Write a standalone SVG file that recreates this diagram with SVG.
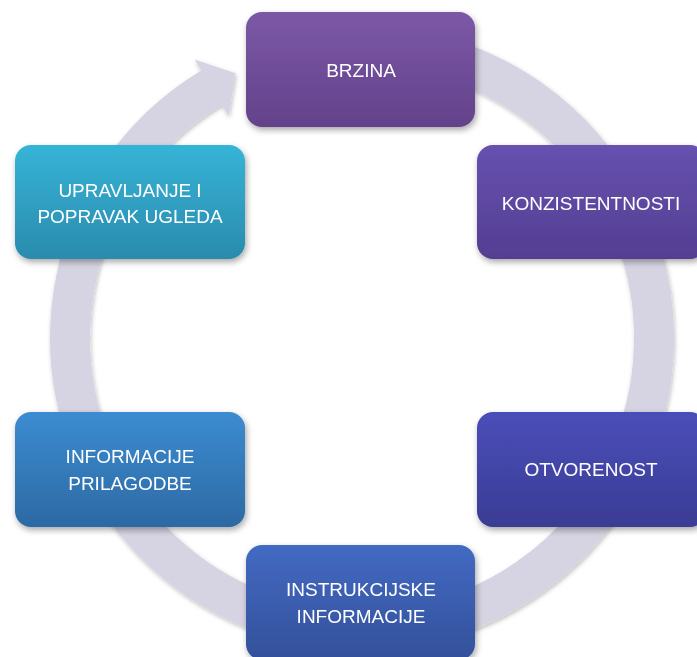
<svg xmlns="http://www.w3.org/2000/svg" width="697" height="657" viewBox="0 0 697 657">
<defs>
<filter id="sh" x="-20%" y="-20%" width="140%" height="150%">
<feDropShadow dx="1.5" dy="3" stdDeviation="3" flood-color="#000" flood-opacity="0.35"/>
</filter>
<filter id="rsh" x="-10%" y="-10%" width="120%" height="120%">
<feDropShadow dx="1" dy="2" stdDeviation="2" flood-color="#000" flood-opacity="0.25"/>
</filter>
<linearGradient id="g1" x1="0" y1="0" x2="0" y2="1"><stop offset="0" stop-color="#7C58A7"/><stop offset="1" stop-color="#63428A"/></linearGradient>
<linearGradient id="g2" x1="0" y1="0" x2="0" y2="1"><stop offset="0" stop-color="#6751B0"/><stop offset="1" stop-color="#533E92"/></linearGradient>
<linearGradient id="g3" x1="0" y1="0" x2="0" y2="1"><stop offset="0" stop-color="#4A4EB9"/><stop offset="1" stop-color="#3A3C94"/></linearGradient>
<linearGradient id="g4" x1="0" y1="0" x2="0" y2="1"><stop offset="0" stop-color="#436AC3"/><stop offset="1" stop-color="#33509A"/></linearGradient>
<linearGradient id="g5" x1="0" y1="0" x2="0" y2="1"><stop offset="0" stop-color="#3C8CD1"/><stop offset="1" stop-color="#2C69A3"/></linearGradient>
<linearGradient id="g6" x1="0" y1="0" x2="0" y2="1"><stop offset="0" stop-color="#36B4D7"/><stop offset="1" stop-color="#2A8BAD"/></linearGradient>
<style>
.box{filter:url(#sh)}
.t{font-family:"Liberation Sans",Arial,sans-serif;font-size:19px;fill:#fff;text-anchor:middle}
</style>
</defs>
<g id="connectors" filter="url(#rsh)">
<path d="M412.7,50.4 A292,292 0 1 1 211.6,87.7" fill="none" stroke="#D6D3E2" stroke-width="40"/>
<polygon points="194.6,59.4 235.6,73.3 228.6,116" fill="#D6D3E2"/>
</g>
<g id="n1" class="box"><rect x="246" y="12" width="229" height="115" rx="16" fill="url(#g1)"/><text class="t" x="361" y="77">BRZINA</text></g>
<g id="n2" class="box"><rect x="477" y="145" width="229" height="114" rx="16" fill="url(#g2)"/><text class="t" x="591" y="210">KONZISTENTNOSTI</text></g>
<g id="n3" class="box"><rect x="477" y="412" width="229" height="115" rx="16" fill="url(#g3)"/><text class="t" x="591" y="476">OTVORENOST</text></g>
<g id="n4" class="box"><rect x="246" y="545" width="229" height="115" rx="16" fill="url(#g4)"/><text class="t" x="361" y="596">INSTRUKCIJSKE</text><text class="t" x="361" y="623">INFORMACIJE</text></g>
<g id="n5" class="box"><rect x="15" y="412" width="230" height="115" rx="16" fill="url(#g5)"/><text class="t" x="130" y="463">INFORMACIJE</text><text class="t" x="130" y="490">PRILAGODBE</text></g>
<g id="n6" class="box"><rect x="15" y="145" width="230" height="114" rx="16" fill="url(#g6)"/><text class="t" x="130" y="197">UPRAVLJANJE I</text><text class="t" x="130" y="223">POPRAVAK UGLEDA</text></g>
</svg>
